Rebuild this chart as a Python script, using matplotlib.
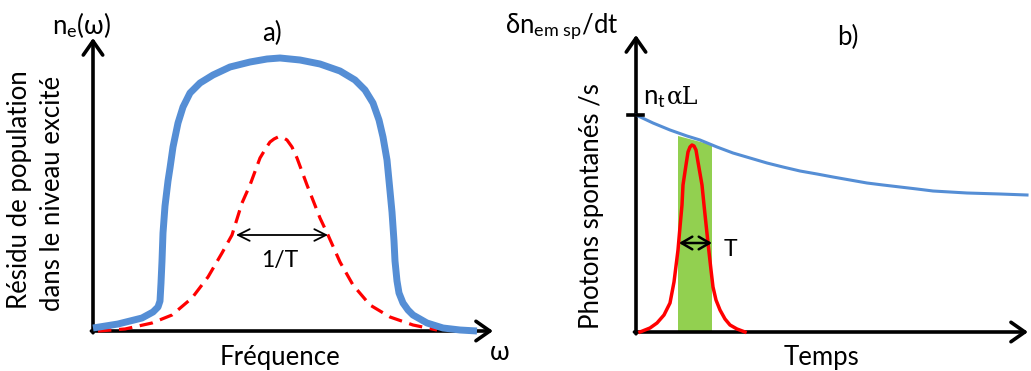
import numpy as np
import matplotlib
matplotlib.use("Agg")
import matplotlib.pyplot as plt

plt.rcParams['font.family'] = ['Lato', 'DejaVu Sans']
plt.rcParams['mathtext.fontset'] = 'custom'
plt.rcParams['mathtext.rm'] = 'Lato'
plt.rcParams['mathtext.it'] = 'Lato:italic'

# panel a) : population vs frequency (arbitrary units)
freq_blue = [0, 25, 49, 60, 65, 67, 68, 69, 70, 72, 75, 77, 80, 85, 90, 97, 107, 120,
             137, 157, 174, 187, 207, 227, 247, 262, 272, 280, 286, 290, 294, 297, 299,
             301, 302, 304, 306, 310, 315, 320, 334, 350, 367, 384]
pop_blue = [3, 7, 13, 19, 24, 30, 48, 70, 98, 125, 150, 163, 184, 208, 224, 238, 248, 256,
            264, 269, 272, 273, 271, 267, 260, 251, 241, 228, 211, 194, 171, 140, 119,
            90, 70, 50, 38, 28, 21, 16, 8, 3, 1, 0]
freq_red = [5, 32, 59, 79, 99, 115, 129, 139, 149, 157, 167, 173, 177, 181, 185, 189,
            194, 199, 204, 214, 227, 235, 247, 260, 277, 297, 320, 344]
pop_red = [0, 2, 8, 16, 33, 54, 78, 96, 128, 146, 173, 183, 189, 192, 194, 194,
           191, 184, 173, 146, 113, 96, 69, 46, 26, 14, 6, 1]
width_a = (143, 235, 96)   # 1/T arrow : start, end, level

# panel b) : spontaneous photons vs time
t_blue = [0, 17, 34, 51, 64, 81, 97, 114, 131, 147, 164, 181, 197, 214, 231, 247,
          264, 281, 297, 314, 331, 364, 391]
rate_blue = [217, 209, 202, 196, 192, 185, 179, 174, 169, 165, 161, 158, 155, 152, 149, 147,
             145, 143, 141, 140, 139, 138, 137]
t_red = [4, 14, 21, 28, 34, 38, 42, 44, 46, 47, 50, 52, 54, 56, 58, 60, 62, 66, 68,
         70, 72, 75, 77, 80, 84, 89, 94, 101, 109]
rate_red = [0, 4, 9, 17, 29, 50, 82, 105, 127, 147, 167, 180, 185, 187, 186, 182, 170, 147, 127,
            108, 89, 62, 45, 32, 22, 13, 7, 3, 0]
band_t = [42, 42, 76, 76]
band_rate = [0, 196, 187, 0]
width_b = (43, 76, 89)
rate0 = 217

W, H = 1031, 371
fig = plt.figure(figsize=(W / 100, H / 100), dpi=100)

def px(x, y):
    return x / W, 1 - y / H

ax1 = fig.add_axes([93 / W, 40 / H, 400 / W, 293 / H])
ax2 = fig.add_axes([636 / W, 39 / H, 392 / W, 297 / H])
ax1.set_xlim(0, 400); ax1.set_ylim(0, 293)
ax2.set_xlim(0, 392); ax2.set_ylim(0, 297)

for ax in (ax1, ax2):
    ax.axis('off')
    arr = dict(arrowstyle='->,head_length=0.5,head_width=0.35', lw=2.6, color='black',
               mutation_scale=20, shrinkA=0, shrinkB=0)
    ax.annotate('', xy=(1, 0), xytext=(-0.004, 0), xycoords='axes fraction', arrowprops=arr)
    ax.annotate('', xy=(0, 1), xytext=(0, -0.006), xycoords='axes fraction', arrowprops=arr)

ax1.plot(freq_red, pop_red, color='#FF0000', lw=2.3, ls=(0, (4.2, 2.4)), clip_on=False, zorder=3)
ax1.plot(freq_blue, pop_blue, color='#558ED5', lw=5, clip_on=False, zorder=4,
         solid_capstyle='butt', solid_joinstyle='round')
ax1.annotate('', xy=(width_a[1], width_a[2]), xytext=(width_a[0], width_a[2]),
             arrowprops=dict(arrowstyle='<->,head_length=0.6,head_width=0.3', lw=1.3,
                             color='black', shrinkA=0, shrinkB=0, mutation_scale=14))
ax1.text(187, 71, '1/T', ha='center', va='center', fontsize=16.5)

ax2.fill(band_t, band_rate, color='#92D050', lw=0, zorder=1)
ax2.plot(t_blue, rate_blue, color='#558ED5', lw=2.2, clip_on=False, zorder=3,
         solid_joinstyle='round')
ax2.plot(t_red, rate_red, color='#FF0000', lw=2.5, clip_on=False, zorder=4,
         solid_joinstyle='round')
ax2.plot([-8, 7], [rate0, rate0], color='black', lw=2.6, clip_on=False, zorder=5)
ax2.annotate('', xy=(width_b[1], width_b[2]), xytext=(width_b[0], width_b[2]),
             arrowprops=dict(arrowstyle='<->,head_length=0.6,head_width=0.35', lw=1.8,
                             color='black', shrinkA=0, shrinkB=0, mutation_scale=13), zorder=6)
ax2.text(94, 82, 'T', ha='center', va='center', fontsize=16.5)

fs = 18.5
fig.text(*px(82, 25), 'n$_\\mathrm{e}$(ω)', ha='center', va='center', fontsize=fs)
fig.text(*px(272, 33), 'a)', ha='center', va='center', fontsize=fs)
fig.text(*px(280, 357), 'Fréquence', ha='center', va='center', fontsize=fs)
fig.text(*px(500, 352), 'ω', ha='center', va='center', fontsize=fs)
fig.text(*px(20, 190), 'Résidu de population', ha='center', va='center',
         rotation=90, fontsize=fs)
fig.text(*px(53, 193), 'dans le niveau excité', ha='center', va='center',
         rotation=90, fontsize=fs)

fig.text(*px(562, 27), 'δn$_\\mathrm{em\\ sp}$/dt', ha='center', va='center', fontsize=fs)
fig.text(*px(848, 37), 'b)', ha='center', va='center', fontsize=fs)
fig.text(*px(822, 357), 'Temps', ha='center', va='center', fontsize=fs)
fig.text(*px(592, 206), 'Photons spontanés /s', ha='center', va='center',
         rotation=90, fontsize=fs)
fig.text(*px(643, 104), 'n$_\\mathrm{t}$', ha='left', va='baseline', fontsize=fs)
fig.text(*px(667, 104), 'αL', ha='left', va='baseline', fontsize=17,
         family='DejaVu Serif')

fig.savefig('out.png', dpi=100)
